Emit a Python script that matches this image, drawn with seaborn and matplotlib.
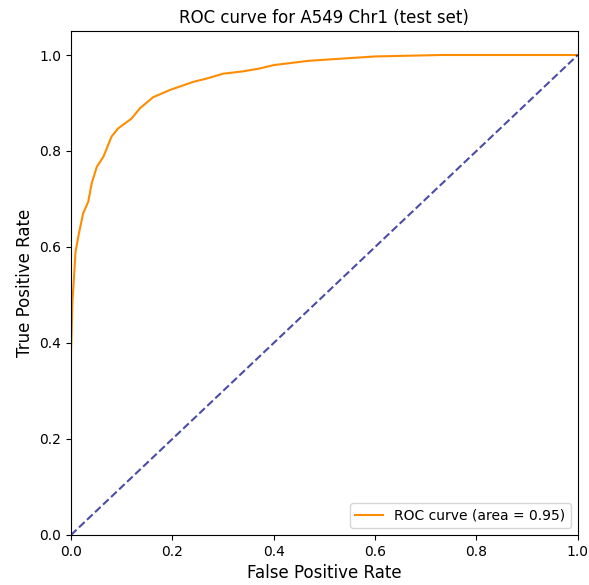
import numpy as np
import pandas as pd
import matplotlib
matplotlib.use("Agg")
import matplotlib.pyplot as plt
import seaborn as sns

# points
fpr = [0.0, 0.0, 0.001, 0.003, 0.005, 0.009, 0.016, 0.024, 0.034, 0.041,
       0.051, 0.064, 0.080, 0.093, 0.120, 0.136, 0.162, 0.195, 0.241, 0.268,
       0.300, 0.340, 0.373, 0.400, 0.470, 0.600, 0.730, 1.0]
tpr = [0.0, 0.38, 0.41, 0.49, 0.52, 0.59, 0.63, 0.67, 0.694, 0.733,
       0.767, 0.788, 0.830, 0.847, 0.868, 0.889, 0.912, 0.927, 0.944, 0.951,
       0.961, 0.966, 0.972, 0.979, 0.988, 0.997, 1.0, 1.0]
diag = [0.0, 1.0]
roc_auc = 0.95

df = pd.DataFrame({"fpr": fpr, "tpr": tpr})

fig = plt.figure(figsize=(5.89, 5.85), dpi=100)
ax = fig.add_axes([0.1205, 0.0855, 0.8605, 0.8615])

sns.lineplot(data=df, x="fpr", y="tpr", sort=False, estimator=None,
             color="darkorange", lw=1.5, label="ROC curve (area = %0.2f)" % roc_auc, ax=ax)
sns.lineplot(x=diag, y=diag, sort=False, estimator=None, color="navy", lw=1.5,
             linestyle="--", alpha=0.7, ax=ax)

ax.set_xlim(0.0, 1.0)
ax.set_ylim(0.0, 1.05)
ax.tick_params(labelsize=10)
ax.set_xlabel("False Positive Rate", fontsize=12)
ax.set_ylabel("True Positive Rate", fontsize=12)
ax.set_title("ROC curve for A549 Chr1 (test set)", fontsize=12)
ax.legend(loc="lower right", fontsize=10)

fig.savefig("out.png", dpi=100)
